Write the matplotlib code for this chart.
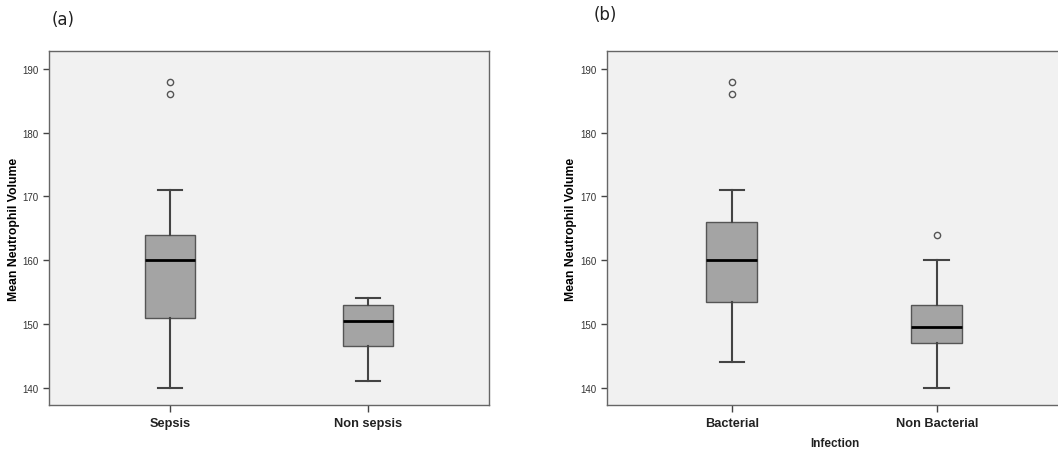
import numpy as np
import matplotlib.pyplot as plt

plt.rcParams['font.family'] = ['Liberation Sans', 'DejaVu Sans']

# panel (a): sepsis vs non sepsis
labels_a = ["Sepsis", "Non sepsis"]
whislo_a = [140, 141]
q1_a = [151, 146.5]
med_a = [160, 150.5]
q3_a = [164, 153]
whishi_a = [171, 154]
fliers_a = [[186, 188], []]

# panel (b): bacterial vs non bacterial
labels_b = ["Bacterial", "Non Bacterial"]
whislo_b = [144, 140]
q1_b = [153.5, 147]
med_b = [160, 149.5]
q3_b = [166, 153]
whishi_b = [171, 160]
fliers_b = [[186, 188], [164]]

yticks = [140, 150, 160, 170, 180, 190]


def make_stats(labels, lo, q1, med, q3, hi, fl):
    return [dict(label=l, whislo=a, q1=b, med=c, q3=d, whishi=e, fliers=f)
            for l, a, b, c, d, e, f in zip(labels, lo, q1, med, q3, hi, fl)]


def draw(ax, stats):
    ax.bxp(stats, positions=[1, 2], widths=0.25, patch_artist=True,
           boxprops=dict(facecolor="#a4a4a4", edgecolor="#555555", linewidth=1.0),
           medianprops=dict(color="black", linewidth=2.0),
           whiskerprops=dict(color="#444444", linewidth=1.5),
           capprops=dict(color="#444444", linewidth=1.5),
           capwidths=0.12,
           flierprops=dict(marker="o", markersize=4.5, markerfacecolor="none",
                           markeredgecolor="#555555", markeredgewidth=1.0))
    ax.set_facecolor("#f1f1f1")
    ax.set_ylim(137.3, 192.8)
    ax.set_yticks(yticks)
    ax.tick_params(axis="y", labelsize=7, labelcolor="#333333", length=4,
                   color="#444444", width=1)
    ax.tick_params(axis="x", length=5, color="#444444", width=1, pad=4)
    for lab in ax.get_xticklabels():
        lab.set_fontweight("bold")
        lab.set_fontsize(9.2)
        lab.set_color("#222222")
    for s in ax.spines.values():
        s.set_color("#666666")
        s.set_linewidth(1.0)
    ax.set_ylabel("Mean Neutrophil Volume", fontsize=8.8, fontweight="bold",
                  labelpad=2)


fig = plt.figure(figsize=(10.58, 4.52), dpi=100)

ax1 = fig.add_axes([0.0463, 0.1018, 0.4159, 0.783])
draw(ax1, make_stats(labels_a, whislo_a, q1_a, med_a, q3_a, whishi_a, fliers_a))
ax1.set_xlim(0.389, 2.611)

ax2 = fig.add_axes([0.5734, 0.1018, 0.4303, 0.783])
draw(ax2, make_stats(labels_b, whislo_b, q1_b, med_b, q3_b, whishi_b, fliers_b))
ax2.set_xlim(0.389, 2.611)

fig.text(835 / 1058, 0.031, "Infection", ha="center", va="top",
         fontsize=8.5, fontweight="bold", color="#222222")

fig.text(0.049, 0.945, "(a)", fontsize=12, color="#222222", family="DejaVu Sans")
fig.text(0.5615, 0.955, "(b)", fontsize=12, color="#222222", family="DejaVu Sans")

fig.savefig("out.png", dpi=100)
